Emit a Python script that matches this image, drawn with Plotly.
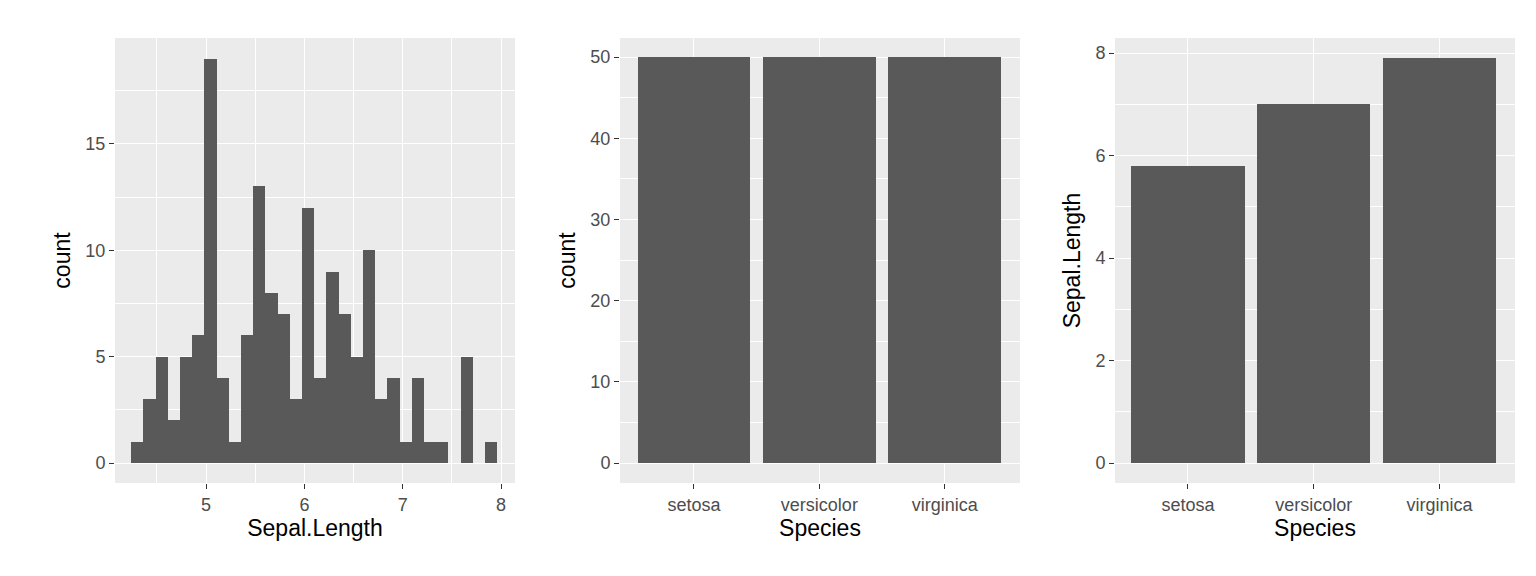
import plotly.graph_objects as go
import numpy as np

hist_counts = [1,3,5,2,5,6,19,4,1,6,13,8,7,3,12,4,9,7,5,10,3,4,1,4,1,1,0,5,0,1]
hist_min, hist_max = 4.3, 7.9
species = ["setosa", "versicolor", "virginica"]
species_counts = [50, 50, 50]
species_max_sepal = [5.8, 7.0, 7.9]

bw = (hist_max - hist_min) / (len(hist_counts) - 1)
centers = [hist_min + i * bw for i in range(len(hist_counts))]

fig = go.Figure()
bar_col = "#595959"
fig.add_trace(go.Bar(x=centers, y=hist_counts, width=bw, marker=dict(color=bar_col, line_width=0), xaxis="x", yaxis="y"))
fig.add_trace(go.Bar(x=species, y=species_counts, width=0.9, marker=dict(color=bar_col, line_width=0), xaxis="x2", yaxis="y2"))
fig.add_trace(go.Bar(x=species, y=species_max_sepal, width=0.9, marker=dict(color=bar_col, line_width=0), xaxis="x3", yaxis="y3"))

W, H = 1536, 576
def px(a, b): return [a / W, b / W]
yd = [1 - 475 / H, 1 - 30 / H]
common = dict(showgrid=True, gridcolor="white", gridwidth=1.4, zeroline=False, showline=False,
              ticks="outside", ticklen=5, tickcolor="#333333", tickwidth=1.1, automargin=False,
              tickfont=dict(size=18, color="#4d4d4d", family="Liberation Sans"),
              title_font=dict(size=23, color="black", family="Liberation Sans"))
minor = dict(showgrid=True, gridcolor="white", gridwidth=0.7)

fig.update_layout(
    width=W, height=H, showlegend=False, paper_bgcolor="white", plot_bgcolor="#ebebeb",
    margin=dict(l=0, r=0, t=0, b=0, autoexpand=False), bargap=0,
    xaxis=dict(domain=px(107, 507), range=[4.074, 8.142], tickvals=[5, 6, 7, 8], minor=dict(tickvals=[4.5,5.5,6.5,7.5], **minor), title=dict(text="Sepal.Length", standoff=4), anchor="y", **common),
    yaxis=dict(domain=yd, range=[-0.94, 19.98], tickvals=[0, 5, 10, 15], minor=dict(tickvals=[2.5,7.5,12.5,17.5], **minor), title=dict(text="count", standoff=8), anchor="x", **common),
    xaxis2=dict(domain=px(612, 1012), range=[-0.59, 2.6], title=dict(text="Species", standoff=4), anchor="y2", **common),
    yaxis2=dict(domain=yd, range=[-2.46, 52.34], tickvals=[0,10,20,30,40,50], minor=dict(tickvals=[5,15,25,35,45], **minor), title=dict(text="count", standoff=8), anchor="x2", **common),
    xaxis3=dict(domain=px(1107, 1507), range=[-0.58, 2.6], title=dict(text="Species", standoff=4), anchor="y3", **common),
    yaxis3=dict(domain=yd, range=[-0.39, 8.293], tickvals=[0,2,4,6,8], minor=dict(tickvals=[1,3,5,7], **minor), title=dict(text="Sepal.Length", standoff=8), anchor="x3", **common),
)
fig.write_html("out.html")
